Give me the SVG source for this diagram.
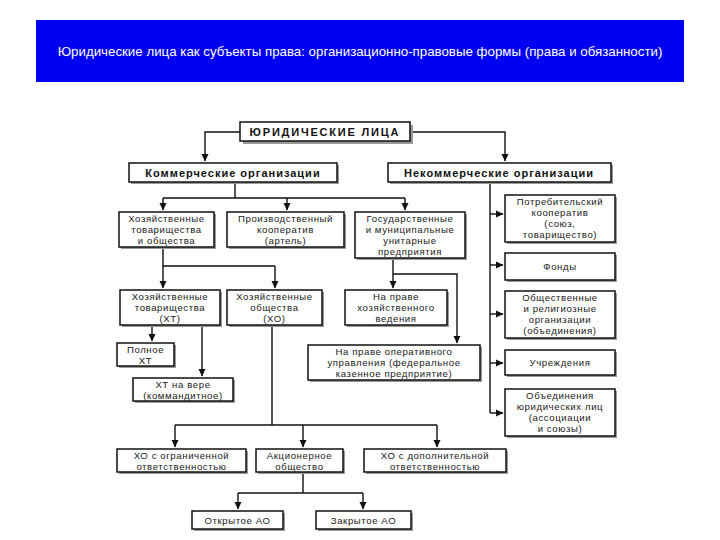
<svg xmlns="http://www.w3.org/2000/svg" width="720" height="540" viewBox="0 0 720 540">
<defs>
<marker id="ar" markerWidth="8" markerHeight="8" refX="7" refY="4" orient="auto" markerUnits="userSpaceOnUse">
<path d="M0,0.5 L7.5,4 L0,7.5 Z" fill="#111"/>
</marker>
<style>
.bx{fill:#fff;stroke:#111;stroke-width:1.5}
.sh{fill:#9a9a9a}
.t{font-family:"Liberation Sans",Arial,sans-serif;font-size:9.6px;fill:#1a1a1a;text-anchor:middle;letter-spacing:0.6px}
.h{font-family:"Liberation Sans",Arial,sans-serif;font-size:11px;font-weight:bold;fill:#111;text-anchor:middle;letter-spacing:1px}
.ln{fill:none;stroke:#111;stroke-width:1.4}
.arw{fill:none;stroke:#111;stroke-width:1.4;marker-end:url(#ar)}
</style>
</defs>
<rect width="720" height="540" fill="#fff"/>
<g id="title">
<rect x="36" y="20" width="648" height="62" fill="#0000f0"/>
<text x="360" y="56" font-family="'Liberation Sans',Arial,sans-serif" font-size="13.3" fill="#fff" text-anchor="middle">Юридические лица как субъекты права: организационно-правовые формы (права и обязанности)</text>
</g>
<g id="connectors">
<path class="arw" d="M240,132 H205 V161"/>
<path class="arw" d="M412,132 H505 V161"/>
<path class="ln" d="M235,182 V198 M163,198 H405"/>
<path class="arw" d="M163,198 V210"/>
<path class="arw" d="M287,198 V210"/>
<path class="arw" d="M405,198 V210"/>
<path class="ln" d="M163,247 V266 H275"/>
<path class="arw" d="M163,266 V288"/>
<path class="arw" d="M275,266 V288"/>
<path class="arw" d="M152,325 V341"/>
<path class="arw" d="M202,325 V376"/>
<path class="ln" d="M272,325 V425 M175,425 H437"/>
<path class="arw" d="M175,425 V447"/>
<path class="arw" d="M303,425 V447"/>
<path class="arw" d="M437,425 V447"/>
<path class="ln" d="M303,472 V493 M238,493 H363"/>
<path class="arw" d="M238,493 V509"/>
<path class="arw" d="M363,493 V509"/>
<path class="arw" d="M393,258 V288"/>
<path class="arw" d="M393,274 H457 V343"/>
<path class="ln" d="M490,182 V413"/>
<path class="arw" d="M490,214 H503"/>
<path class="arw" d="M490,265 H503"/>
<path class="arw" d="M490,314 H503"/>
<path class="arw" d="M490,363 H503"/>
<path class="arw" d="M490,413 H503"/>
</g>
<g id="n-top">
<rect class="sh" x="243" y="125" width="170" height="19"/>
<rect class="bx" x="240" y="122" width="170" height="19"/>
<text class="h" x="325" y="136" style="letter-spacing:1.8px">ЮРИДИЧЕСКИЕ ЛИЦА</text>
</g>
<g id="n-kom">
<rect class="sh" x="131" y="165" width="208" height="19"/>
<rect class="bx" x="129" y="163" width="208" height="19"/>
<text class="h" x="233" y="177">Коммерческие организации</text>
</g>
<g id="n-nekom">
<rect class="sh" x="390" y="165" width="223" height="19"/>
<rect class="bx" x="388" y="163" width="223" height="19"/>
<text class="h" x="499" y="177">Некоммерческие организации</text>
</g>
<g id="n-hoz">
<rect class="sh" x="121" y="214" width="95" height="35"/>
<rect class="bx" x="119" y="212" width="95" height="35"/>
<text class="t" x="166.5" y="222"><tspan x="166.5" dy="0">Хозяйственные</tspan><tspan x="166.5" dy="11">товарищества</tspan><tspan x="166.5" dy="11">и общества</tspan></text>
</g>
<g id="n-proizv">
<rect class="sh" x="229" y="214" width="117" height="35"/>
<rect class="bx" x="227" y="212" width="117" height="35"/>
<text class="t" x="285.5" y="222"><tspan x="285.5" dy="0">Производственный</tspan><tspan x="285.5" dy="11">кооператив</tspan><tspan x="285.5" dy="11">(артель)</tspan></text>
</g>
<g id="n-gos">
<rect class="sh" x="357" y="214" width="110" height="46"/>
<rect class="bx" x="355" y="212" width="110" height="46"/>
<text class="t" x="410" y="222"><tspan x="410" dy="0">Государственные</tspan><tspan x="410" dy="11">и муниципальные</tspan><tspan x="410" dy="11">унитарные</tspan><tspan x="410" dy="11">предприятия</tspan></text>
</g>
<g id="n-xt">
<rect class="sh" x="122" y="292" width="100" height="35"/>
<rect class="bx" x="120" y="290" width="100" height="35"/>
<text class="t" x="170" y="300"><tspan x="170" dy="0">Хозяйственные</tspan><tspan x="170" dy="11">товарищества</tspan><tspan x="170" dy="11">(ХТ)</tspan></text>
</g>
<g id="n-xo">
<rect class="sh" x="229" y="292" width="95" height="35"/>
<rect class="bx" x="227" y="290" width="95" height="35"/>
<text class="t" x="274.5" y="300"><tspan x="274.5" dy="0">Хозяйственные</tspan><tspan x="274.5" dy="11">общества</tspan><tspan x="274.5" dy="11">(ХО)</tspan></text>
</g>
<g id="n-polnoe">
<rect class="sh" x="119" y="345" width="57" height="23"/>
<rect class="bx" x="117" y="343" width="57" height="23"/>
<text class="t" x="145.5" y="352.5"><tspan x="145.5" dy="0">Полное</tspan><tspan x="145.5" dy="11">ХТ</tspan></text>
</g>
<g id="n-navere">
<rect class="sh" x="135" y="380" width="100" height="23"/>
<rect class="bx" x="133" y="378" width="100" height="23"/>
<text class="t" x="183" y="387.5"><tspan x="183" dy="0">ХТ на вере</tspan><tspan x="183" dy="11">(коммандитное)</tspan></text>
</g>
<g id="n-hozved">
<rect class="sh" x="347" y="292" width="102" height="35"/>
<rect class="bx" x="345" y="290" width="102" height="35"/>
<text class="t" x="396" y="300"><tspan x="396" dy="0">На праве</tspan><tspan x="396" dy="11">хозяйственного</tspan><tspan x="396" dy="11">ведения</tspan></text>
</g>
<g id="n-oper">
<rect class="sh" x="310" y="347" width="172" height="35"/>
<rect class="bx" x="308" y="345" width="172" height="35"/>
<text class="t" x="394" y="355"><tspan x="394" dy="0">На праве оперативного</tspan><tspan x="394" dy="11">управления (федеральное</tspan><tspan x="394" dy="11">казенное предприятие)</tspan></text>
</g>
<g id="n-potreb">
<rect class="sh" x="507" y="197" width="110" height="47"/>
<rect class="bx" x="505" y="195" width="110" height="47"/>
<text class="t" x="560" y="205"><tspan x="560" dy="0">Потребительский</tspan><tspan x="560" dy="11">кооператив</tspan><tspan x="560" dy="11">(союз,</tspan><tspan x="560" dy="11">товарищество)</tspan></text>
</g>
<g id="n-fondy">
<rect class="sh" x="507" y="255" width="110" height="27"/>
<rect class="bx" x="505" y="253" width="110" height="27"/>
<text class="t" x="560" y="270">Фонды</text>
</g>
<g id="n-obsh">
<rect class="sh" x="507" y="293" width="110" height="47"/>
<rect class="bx" x="505" y="291" width="110" height="47"/>
<text class="t" x="560" y="301"><tspan x="560" dy="0">Общественные</tspan><tspan x="560" dy="11">и религиозные</tspan><tspan x="560" dy="11">организации</tspan><tspan x="560" dy="11">(объединения)</tspan></text>
</g>
<g id="n-uchr">
<rect class="sh" x="507" y="352" width="110" height="25"/>
<rect class="bx" x="505" y="350" width="110" height="25"/>
<text class="t" x="560" y="366">Учреждения</text>
</g>
<g id="n-obied">
<rect class="sh" x="507" y="391" width="110" height="47"/>
<rect class="bx" x="505" y="389" width="110" height="47"/>
<text class="t" x="560" y="399"><tspan x="560" dy="0">Объединения</tspan><tspan x="560" dy="11">юридических лиц</tspan><tspan x="560" dy="11">(ассоциации</tspan><tspan x="560" dy="11">и союзы)</tspan></text>
</g>
<g id="n-ooo">
<rect class="sh" x="119" y="451" width="129" height="23"/>
<rect class="bx" x="117" y="449" width="129" height="23"/>
<text class="t" x="181.5" y="458.5"><tspan x="181.5" dy="0">ХО с ограниченной</tspan><tspan x="181.5" dy="11">ответственностью</tspan></text>
</g>
<g id="n-ao">
<rect class="sh" x="258" y="451" width="87" height="23"/>
<rect class="bx" x="256" y="449" width="87" height="23"/>
<text class="t" x="299.5" y="458.5"><tspan x="299.5" dy="0">Акционерное</tspan><tspan x="299.5" dy="11">общество</tspan></text>
</g>
<g id="n-odo">
<rect class="sh" x="366" y="451" width="142" height="23"/>
<rect class="bx" x="364" y="449" width="142" height="23"/>
<text class="t" x="435" y="458.5"><tspan x="435" dy="0">ХО с дополнительной</tspan><tspan x="435" dy="11">ответственностью</tspan></text>
</g>
<g id="n-oao">
<rect class="sh" x="194" y="513" width="91" height="18"/>
<rect class="bx" x="192" y="511" width="91" height="18"/>
<text class="t" x="237.5" y="523.5">Открытое АО</text>
</g>
<g id="n-zao">
<rect class="sh" x="318" y="513" width="95" height="18"/>
<rect class="bx" x="316" y="511" width="95" height="18"/>
<text class="t" x="363.5" y="523.5">Закрытое АО</text>
</g>
</svg>
